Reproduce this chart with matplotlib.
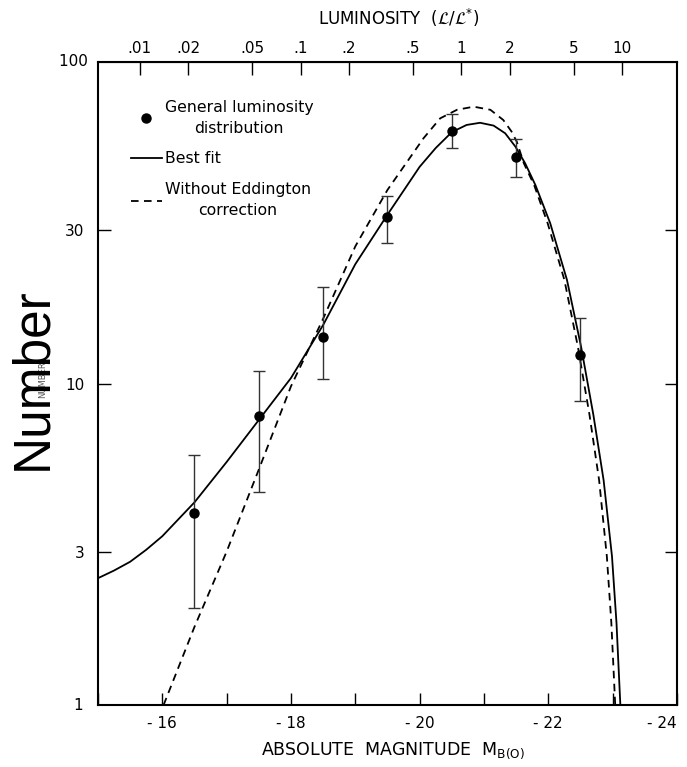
import numpy as np
import matplotlib.pyplot as plt
from matplotlib.lines import Line2D
from matplotlib.ticker import FixedLocator, NullFormatter

# Observed points (absolute magnitude, number, error bar limits)
mag_pts = [-16.5, -17.5, -18.5, -19.5, -20.5, -21.5, -22.5]
num_pts = [3.96, 7.9, 14.0, 33.0, 61.0, 50.8, 12.3]
err_hi = [6.0, 10.9, 19.9, 38.3, 69.0, 57.5, 16.0]
err_lo = [2.0, 4.6, 10.3, 27.3, 54.0, 44.0, 8.8]

# Best fit curve
mag_fit = [-15.0, -15.25, -15.5, -15.75, -16.0, -16.5, -17.0, -17.5, -18.0, -18.5, -19.0,
           -19.5, -20.0, -20.25, -20.5, -20.73, -20.94, -21.15, -21.33,
           -21.49, -21.64, -21.8, -22.03, -22.29, -22.51, -22.7, -22.86,
           -22.99, -23.06, -23.12]
num_fit = [2.48, 2.62, 2.79, 3.04, 3.35, 4.27, 5.7, 7.7, 10.4, 15.2, 23.5,
           33.5, 47.2, 54.0, 60.5, 63.7, 64.7, 63.4, 60.0,
           54.5, 48.4, 41.4, 31.5, 21.0, 13.0, 8.0, 5.0,
           2.9, 1.8, 1.0]

# Without Eddington correction
mag_dash = [-16.02, -16.5, -17.0, -17.5, -18.0, -18.5, -19.0, -19.5, -20.06,
            -20.32, -20.58, -20.84, -21.1, -21.3, -21.43, -21.51, -21.62,
            -21.78, -21.99, -22.25, -22.46, -22.64, -22.79, -22.91, -22.98,
            -23.04]
num_dash = [1.0, 1.75, 3.0, 5.4, 9.8, 15.9, 26.7, 40.0, 57.9,
            66.8, 71.0, 72.6, 71.0, 66.0, 60.7, 56.5, 48.4,
            41.4, 31.5, 21.0, 13.0, 8.0, 5.0, 2.9, 1.8,
            1.0]

y_ticks = [3, 10, 30]
y_labels = ['3', '10', '30']
x_major = [-16, -18, -20, -22, -24]
x_labels = ['- 16', '- 18', '- 20', '- 22', '- 24']
lum_ticks = [0.01, 0.02, 0.05, 0.1, 0.2, 0.5, 1, 2, 5, 10]
lum_labels = ['.01', '.02', '.05', '.1', '.2', '.5', '1', '2', '5', '10']
m_star = -20.65

plt.rcParams['font.family'] = 'DejaVu Sans'
fig = plt.figure(figsize=(6.87, 7.67), dpi=100)
ax = fig.add_axes([0.1426, 0.0808, 0.8428, 0.8384])

ax.plot(mag_fit, num_fit, color='black', lw=1.3)
ax.plot(mag_dash, num_dash, color='black', lw=1.3, dashes=(4.2, 3))
yerr = [np.array(num_pts) - np.array(err_lo), np.array(err_hi) - np.array(num_pts)]
ax.errorbar(mag_pts, num_pts, yerr=yerr, fmt='o', color='black', ms=6.5,
            ecolor='#333333', elinewidth=1.0, capsize=4, capthick=1.0)

ax.set_yscale('log')
ax.set_ylim(1, 100)
ax.set_xlim(-15, -24)

ax.yaxis.set_major_locator(FixedLocator(y_ticks))
ax.set_yticklabels(y_labels)
ax.yaxis.set_minor_locator(FixedLocator([]))
ax.yaxis.set_minor_formatter(NullFormatter())
ax.tick_params(axis='y', which='both', direction='in', length=9, width=1,
               right=True, labelsize=11, pad=10)
# corner labels without ticks
ax.text(-15, 100, '100  ', ha='right', va='center', fontsize=11)
ax.text(-15, 1, '1   ', ha='right', va='center', fontsize=11)

ax.set_xticks(x_major)
ax.set_xticklabels(x_labels)
ax.set_xticks(np.arange(-15, -24, -1), minor=True)
ax.tick_params(axis='x', which='both', direction='in', length=9, width=1,
               labelsize=11, pad=8)
ax.get_xticklabels()[-1].set_horizontalalignment('right')

for s in ax.spines.values():
    s.set_linewidth(1.5)

# top luminosity axis
sec = ax.secondary_xaxis('top', functions=(lambda m: 10 ** (-0.4 * (np.asarray(m) - m_star)),
                                           lambda l: m_star - 2.5 * np.log10(np.clip(l, 1e-9, None))))
sec.set_xticks(lum_ticks)
sec.set_xticklabels(lum_labels)
sec.tick_params(direction='in', length=9, width=1, labelsize=11, pad=4)
ax.text(0.52, 1.068, r'LUMINOSITY  ($\mathcal{L}/\mathcal{L}^{*}$)', transform=ax.transAxes,
        ha='center', va='center', fontsize=12)

ax.set_xlabel(r'ABSOLUTE  MAGNITUDE  M$_{\mathrm{B(O)}}$', fontsize=12.5)
ax.xaxis.set_label_coords(0.51, -0.055)

# faint original label under the overlay
fig.text(0.062, 0.505, 'NUMBER', rotation=90, fontsize=6, ha='center', va='center',
         color='#555555')
fig.text(0.047, 0.507, 'Number', rotation=90, fontsize=37, ha='center', va='center',
         family='Liberation Sans')

handles = [Line2D([], [], marker='o', ls='none', color='black', ms=6.5),
           Line2D([], [], color='black', lw=1.3),
           Line2D([], [], color='black', lw=1.3, dashes=(4.2, 3))]
labels = ['General luminosity\ndistribution', 'Best fit',
          'Without Eddington\ncorrection']
leg = ax.legend(handles, labels, loc='upper left', frameon=False, fontsize=11.3,
                handlelength=2.0, handletextpad=0.15, labelspacing=1.0,
                borderaxespad=0.4, bbox_to_anchor=(0.035, 0.961))
for t in leg.get_texts():
    t.set_multialignment('center')
    t.set_linespacing(1.5)

fig.savefig('out.png', dpi=100)
